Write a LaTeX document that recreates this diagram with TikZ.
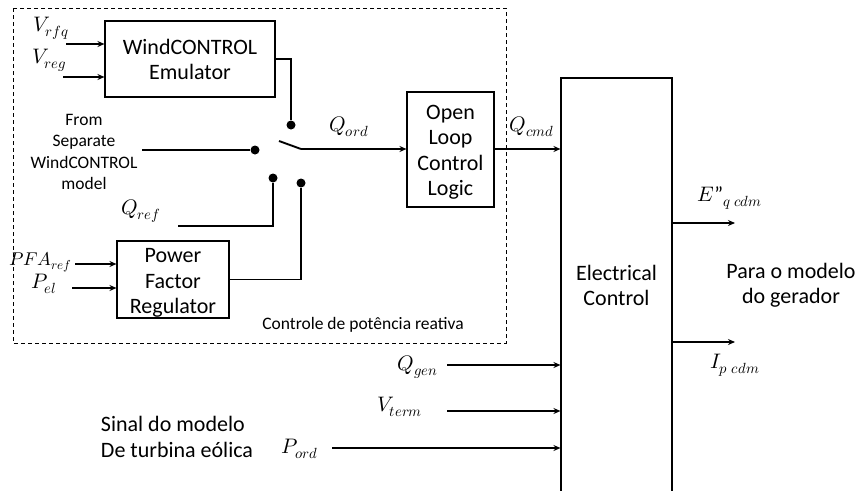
\documentclass[tikz,border=0pt]{standalone}
\usepackage{unicode-math}
\setmainfont{Carlito}
\setmathfont{Latin Modern Math}
\usetikzlibrary{arrows.meta}
\tikzset{
  blk/.style={draw, line width=1.1pt, inner sep=0pt, align=center, font=\fontsize{22}{25}\selectfont},
  dot/.style={circle, fill=black, inner sep=0pt, minimum size=9pt},
  wire/.style={line width=1.9pt},
  arr/.style={line width=1.9pt, -{Stealth[length=7pt,width=6pt]}},
  lbl/.style={inner sep=0pt, font=\fontsize{21}{22}\selectfont},
  txt/.style={inner sep=0pt, align=center, font=\fontsize{17.5}{21.5}\selectfont},
  big/.style={inner sep=0pt, align=center, font=\fontsize{22}{25.5}\selectfont}
}
\begin{document}
\begin{tikzpicture}[x=1pt,y=-1pt]
\useasboundingbox (0,0) rectangle (864,490);
% dashed region
\draw[dashed, line width=0.9pt, dash pattern=on 4pt off 3pt] (13,8) rectangle (506,343);
\node[inner sep=0pt, font=\fontsize{17.5}{20}\selectfont] (ctl) at (363,325) {Controle de potência reativa};
% blocks
\node[blk, minimum width=170pt, minimum height=76pt] (wce) at (190,59) {WindCONTROL\\Emulator};
\node[blk, minimum width=112pt, minimum height=77pt] (pfr) at (173,279.5) {};
\node[big] (pfrt) at (173,283) {Power\\Factor\\Regulator};
\node[blk, minimum width=87pt, minimum height=115pt] (olc) at (450.5,149.5) {};
\node[big] (olct) at (450.5,152) {Open\\Loop\\Control\\Logic};
\node[blk, minimum width=111pt, minimum height=414pt] (elc) at (616.5,285) {Electrical\\Control};
% WindCONTROL inputs
\node[lbl] (vrfq) at (51,28) {$V_{rfq}$};
\node[lbl] (vreg) at (49,60) {$V_{reg}$};
\coordinate (vrfqs) at (66,44);
\coordinate (vregs) at (63,77);
\draw[arr] (vrfqs) -- (vrfqs -| wce.west);
\draw[arr] (vregs) -- (vregs -| wce.west);
% switch contacts
\node[dot] (d1) at (291,125) {};
\node[dot] (d2) at (255,150) {};
\node[dot] (d3) at (273,178) {};
\node[dot] (d4) at (301,183) {};
\coordinate (bl1) at (279,141);
\coordinate (bl2) at (301,149);
\draw[wire] (wce.east) -| (d1);
\node[txt] (sep) at (84,152) {From\\Separate\\WindCONTROL\\model};
\coordinate (seps) at (142,150);
\draw[wire] (seps) -- (d2);
\node[lbl] (qref) at (141,211) {$Q_{ref}$};
\coordinate (qrefs) at (178,226);
\draw[wire] (qrefs) -| (d3);
\draw[wire] (pfr.east) -| (d4);
\draw[wire] (bl1) -- (bl2);
\draw[arr] (bl2) -- (bl2 -| olc.west);
\node[lbl] (qord) at (349,127) {$Q_{ord}$};
% PFR inputs
\node[lbl, font=\fontsize{18.5}{20}\selectfont, anchor=east] (pfa) at (72,262) {$PFA_{ref}$};
\node[lbl] (pel) at (44,284) {$P_{el}$};
\coordinate (pfas) at (75,264);
\coordinate (pels) at (72,288);
\draw[arr] (pfas) -- (pfas -| pfr.west);
\draw[arr] (pels) -- (pels -| pfr.west);
% Open loop output
\node[lbl] (qcmd) at (532,127) {$Q_{cmd}$};
\draw[arr] (olc.east |- bl2) -- (bl2 -| elc.west);
% Electrical outputs
\coordinate (eout) at (735,223);
\coordinate (iout) at (735,342);
\draw[arr] (eout -| elc.east) -- (eout);
\draw[arr] (iout -| elc.east) -- (iout);
\node[lbl] (eq) at (730,198) {$E$"$_{q\;cdm}$};
\node[lbl] (ip) at (735,365) {$I_{p\;cdm}$};
\node[big] (para) at (791,285) {Para o modelo\\do gerador};
% Electrical inputs
\node[lbl] (qgen) at (418,367) {$Q_{gen}$};
\node[lbl] (vterm) at (400,407) {$V_{term}$};
\node[lbl] (pord) at (300,449) {$P_{ord}$};
\coordinate (qgens) at (447,365);
\coordinate (vterms) at (447,411);
\coordinate (pords) at (332,448);
\draw[arr] (qgens) -- (qgens -| elc.west);
\draw[arr] (vterms) -- (vterms -| elc.west);
\draw[arr] (pords) -- (pords -| elc.west);
\node[big, align=left] (sinal) at (177,437) {Sinal do modelo\\De turbina eólica};
\end{tikzpicture}
\end{document}
